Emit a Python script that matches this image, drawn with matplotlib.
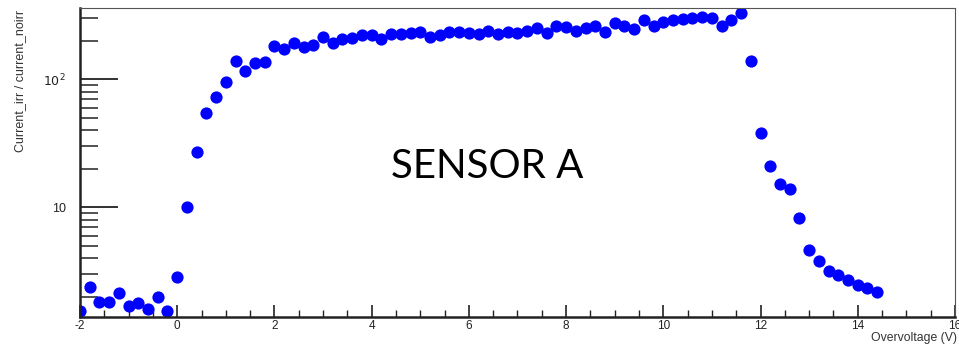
import numpy as np
import matplotlib
matplotlib.use("Agg")
import matplotlib.pyplot as plt
from matplotlib.ticker import FixedLocator, MultipleLocator, FixedFormatter

plt.rcParams["axes.unicode_minus"] = False

# overvoltage scan, 0.2 V steps
voltage = np.round(np.arange(-2.0, 14.41, 0.2), 1)
ratio = [
    1.56, 2.40, 1.82, 1.83, 2.13, 1.69, 1.78, 1.61, 1.98, 1.54,
    2.87, 10.1, 27.2, 54.8, 73.1, 94.8, 139.6, 115, 135, 137,
    182, 173, 191, 178, 185, 215, 193, 205, 211, 222,
    223, 207, 224, 225, 229, 234, 213, 223, 233, 232,
    229, 227, 237, 227, 233, 230, 240, 250, 230, 259,
    258, 240, 252, 259, 235, 274, 262, 248, 290, 261,
    282, 290, 294, 303, 305, 298, 262, 290, 328, 140,
    37.8, 21.0, 15.2, 14.0, 8.24, 4.63, 3.80, 3.20, 2.96, 2.70,
    2.47, 2.33, 2.17,
]

fig = plt.figure(figsize=(9.59, 3.47), dpi=100)
ax = fig.add_axes([0.0834, 0.0865, 0.9124, 0.8905])

ax.plot(voltage, ratio, "o", color="#0000ff", markersize=8.8, markeredgewidth=0)

ax.set_yscale("log")
ax.set_xlim(-2, 16)
ax.set_ylim(1.39, 360)

ax.xaxis.set_major_locator(MultipleLocator(2))
ax.xaxis.set_minor_locator(MultipleLocator(0.5))
ax.yaxis.set_major_locator(FixedLocator([10, 100]))
ax.yaxis.set_major_formatter(FixedFormatter(["10", r"$10^2$"]))
minors = [m * d for d in (1, 10, 100) for m in range(2, 10)]
ax.yaxis.set_minor_locator(FixedLocator(minors))
ax.yaxis.set_minor_formatter(FixedFormatter([""] * len(minors)))

ax.tick_params(axis="x", which="major", direction="in", length=9, width=1.2,
               labelsize=8.5, colors="#222222", pad=2)
ax.tick_params(axis="x", which="minor", direction="in", length=5, width=1.0,
               colors="#222222")
ax.tick_params(axis="y", which="major", direction="in", length=27, width=1.3,
               labelsize=9, colors="#222222", pad=10)
ax.tick_params(axis="y", which="minor", direction="in", length=13, width=1.1,
               colors="#222222")
for lab in ax.get_xticklabels() + ax.get_yticklabels():
    lab.set_family("Liberation Sans")

ax.spines["left"].set_linewidth(1.8)
ax.spines["bottom"].set_linewidth(1.8)
ax.spines["left"].set_color("#222222")
ax.spines["bottom"].set_color("#222222")
for s in ("top", "right"):
    ax.spines[s].set_linewidth(0.8)
    ax.spines[s].set_color("#555555")

fig.text(0.998, 0.026, "Overvoltage (V)", ha="right", va="center",
         fontsize=8.8, family="Liberation Sans", color="#333333")
fig.text(0.021, 0.972, "Current_irr / current_noirr", ha="center", va="top",
         rotation=90, fontsize=9, family="Liberation Sans", color="#333333")

ax.text(6.38, 20.7, "SENSOR A", ha="center", va="center", fontsize=29,
        family="Lato", color="black")

fig.savefig("out.png", dpi=100)
